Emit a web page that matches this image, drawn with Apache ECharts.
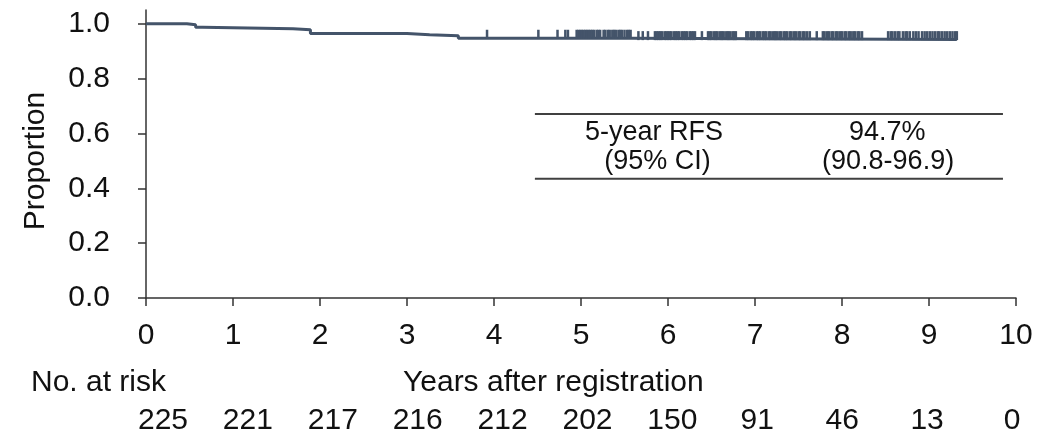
<!DOCTYPE html>
<html><head><meta charset="utf-8">
<script src="https://cdn.jsdelivr.net/npm/echarts@6/dist/echarts.min.js"></script>
<style>html,body{margin:0;padding:0;background:#fff}#c{width:1058px;height:436px}</style>
</head><body><div id="c"></div>
<script>
// Kaplan-Meier step points (time in years, survival proportion)
const eventTimes = [0, 0.47, 0.57, 0.65, 1.69, 1.89, 3.00, 3.26, 3.59, 5.59, 9.32];
const survival   = [1.0, 0.996, 0.987, 0.982, 0.978, 0.964, 0.960, 0.956, 0.947, 0.942, 0.942];
// censoring marks (years)
const censorTimes = [3.92,
  4.51, 4.73, 4.82, 4.85,
  4.95, 4.97, 4.99, 5.01, 5.03, 5.05, 5.07, 5.09, 5.11, 5.13, 5.15,
  5.18, 5.20, 5.22, 5.26, 5.28, 5.31, 5.33, 5.36, 5.38, 5.40, 5.43, 5.45, 5.47, 5.50, 5.53, 5.55, 5.57,
  5.66, 5.71, 5.77,
  5.85, 5.87, 5.89, 5.91, 5.93, 5.96, 5.98, 6.00, 6.02, 6.04, 6.07, 6.09, 6.11, 6.13, 6.16, 6.18, 6.20, 6.22, 6.25, 6.27, 6.29, 6.31,
  6.39, 6.46, 6.48, 6.50, 6.53, 6.55, 6.57, 6.60, 6.62, 6.64, 6.67, 6.69, 6.71, 6.74, 6.76, 6.78,
  6.90, 6.92, 6.95, 6.97, 6.99, 7.02, 7.04, 7.06, 7.09, 7.11, 7.13, 7.16, 7.18, 7.21, 7.23, 7.25, 7.28, 7.30, 7.33, 7.35, 7.37, 7.40, 7.42, 7.45, 7.47, 7.50, 7.52, 7.55, 7.57, 7.60, 7.63,
  7.71, 7.78, 7.80, 7.83, 7.85, 7.88, 7.90, 7.93, 7.95, 7.98, 8.00, 8.03, 8.05, 8.08, 8.10, 8.13, 8.15, 8.18, 8.20, 8.23,
  8.53, 8.56, 8.58, 8.61, 8.64, 8.66, 8.70, 8.73, 8.75, 8.78, 8.82, 8.85, 8.88, 8.92,
  8.95, 8.98, 9.01, 9.04, 9.07, 9.10, 9.12, 9.15, 9.18, 9.21, 9.24, 9.27, 9.30, 9.32];
const xTicks = [0,1,2,3,4,5,6,7,8,9,10];
const yTicks = [0, 0.2, 0.4, 0.6, 0.8, 1.0];
const atRisk = [225, 221, 217, 216, 212, 202, 150, 91, 46, 13, 0];
// summary table
const tableRuleY = [0.671, 0.435];
const tableRuleX = [4.47, 9.85];
const tableTexts = ['5-year RFS', '(95% CI)', '94.7%', '(90.8-96.9)'];
const tableTextX = [5.84, 5.88, 8.52, 8.53];
const tableTextY = [0.602, 0.497, 0.602, 0.497];

const LINE = '#44546a';
const TXT = '#111';
const FONT = '"Liberation Sans", Arial, sans-serif';

function survAt(t) {
  let s = survival[0];
  for (let i = 0; i < eventTimes.length; i++) { if (eventTimes[i] <= t) s = survival[i]; }
  return s;
}

const chart = echarts.init(document.getElementById('c'), null, {renderer: 'canvas'});
chart.setOption({
  animation: false,
  backgroundColor: '#fff',
  textStyle: {fontFamily: FONT},
  grid: {left: 146, right: 42, top: 10, bottom: 137, containLabel: false},
  xAxis: [{
    type: 'value', min: 0, max: 10, interval: 1,
    axisLine: {show: true, lineStyle: {color: '#333', width: 1.5}},
    axisTick: {show: true, length: 8, lineStyle: {color: '#333', width: 1.5}},
    axisLabel: {fontSize: 30, color: TXT, margin: 23, fontFamily: FONT,
      customValues: xTicks},
    splitLine: {show: false}
  }, {
    // number-at-risk row, placed under the plot
    type: 'value', min: -0.2, max: 10.047, position: 'bottom', offset: 94,
    axisLine: {show: false}, axisTick: {show: false}, splitLine: {show: false},
    axisLabel: {fontSize: 30, color: TXT, margin: 14, fontFamily: FONT,
      customValues: xTicks,
      formatter: v => String(atRisk[Math.round(v)])}
  }],
  yAxis: {
    type: 'value', min: 0, max: 1.05,
    name: 'Proportion', nameLocation: 'middle', nameRotate: 90, nameGap: 95,
    nameTextStyle: {fontSize: 30, color: TXT, fontFamily: FONT, padding: [0, 14, 0, 0]},
    axisLine: {show: true, lineStyle: {color: '#333', width: 1.5}},
    axisTick: {show: true, length: 8, lineStyle: {color: '#333', width: 1.5}, customValues: yTicks},
    axisLabel: {fontSize: 30, color: TXT, margin: 36, fontFamily: FONT,
      customValues: yTicks, formatter: v => v.toFixed(1)},
    splitLine: {show: false}
  },
  graphic: [
    {type: 'text', left: 31, top: 368, style: {text: 'No. at risk', fontSize: 30, fill: TXT, fontFamily: FONT}},
    {type: 'text', left: 403, top: 368, style: {text: 'Years after registration', fontSize: 30, fill: TXT, fontFamily: FONT}}
  ],
  series: [
    {
      type: 'line', step: 'end', symbol: 'none',
      data: eventTimes.map((t, i) => [t, survival[i]]),
      lineStyle: {color: LINE, width: 3}, z: 3
    },
    {
      type: 'scatter', symbol: 'rect', symbolSize: [2.5, 9], symbolOffset: [0, -4],
      data: censorTimes.map(t => [t, survAt(t)]),
      itemStyle: {color: LINE, opacity: 1}, z: 4, silent: true
    },
    {
      type: 'line', symbol: 'none', silent: true,
      data: tableRuleX.map(x => [x, tableRuleY[0]]),
      lineStyle: {color: '#404040', width: 2}
    },
    {
      type: 'line', symbol: 'none', silent: true,
      data: tableRuleX.map(x => [x, tableRuleY[1]]),
      lineStyle: {color: '#404040', width: 2}
    },
    {
      type: 'scatter', symbolSize: 0, silent: true,
      itemStyle: {opacity: 1},
      data: tableTexts.map((s, i) => ({value: [tableTextX[i], tableTextY[i]], name: s})),
      label: {show: true, position: 'inside', formatter: p => p.name,
        fontSize: 27, color: TXT, fontFamily: FONT}
    }
  ]
});
</script>
</body></html>
